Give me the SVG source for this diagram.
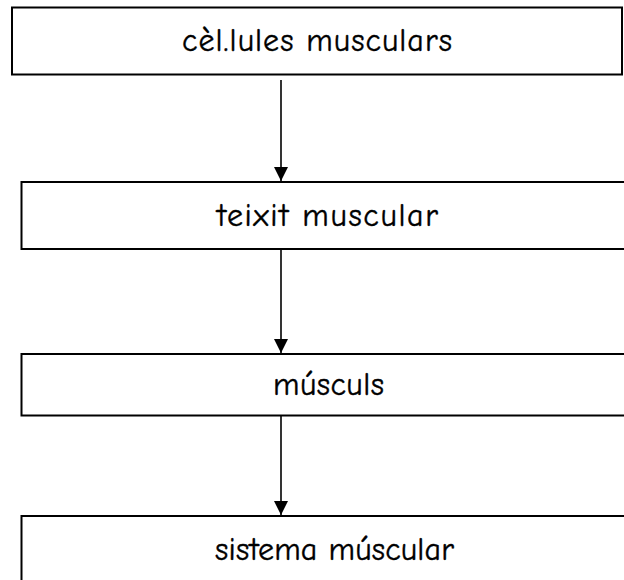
<svg xmlns="http://www.w3.org/2000/svg" width="624" height="580" viewBox="0 0 624 580">
<defs>
<style>
.box{fill:#fff;stroke:#000;stroke-width:2}
.lbl{font-family:"Comic Neue","DejaVu Sans",sans-serif;font-size:32px;fill:#000;stroke:#000;stroke-width:0.4;text-anchor:middle}
.con{stroke:#000;stroke-width:1.6;fill:none}
</style>
<marker id="ah" viewBox="0 0 14 14" refX="14" refY="7" markerWidth="14" markerHeight="14" markerUnits="userSpaceOnUse" orient="auto">
<path d="M0,0 L14,7 L0,14 z" fill="#000"/>
</marker>
</defs>
<rect width="624" height="580" fill="#fff"/>
<g id="n1"><rect class="box" x="12" y="7.5" width="610" height="67"/><text class="lbl" x="317" y="51" textLength="270" lengthAdjust="spacing">cèl.lules musculars</text></g>
<g id="n2"><rect class="box" x="21.5" y="182" width="612" height="67"/><text class="lbl" x="327.5" y="226" textLength="221" lengthAdjust="spacing">teixit muscular</text></g>
<g id="n3"><rect class="box" x="21.5" y="354" width="612" height="61.5"/><text class="lbl" x="328.5" y="395" textLength="111" lengthAdjust="spacing">músculs</text></g>
<g id="n4"><rect class="box" x="21.5" y="516" width="612" height="80"/><text class="lbl" x="334.5" y="560" textLength="239" lengthAdjust="spacing">sistema múscular</text></g>
<g id="connectors">
<line class="con" x1="281" y1="80" x2="281" y2="181" marker-end="url(#ah)"/>
<line class="con" x1="281" y1="249" x2="281" y2="353" marker-end="url(#ah)"/>
<line class="con" x1="281" y1="415.5" x2="281" y2="515" marker-end="url(#ah)"/>
</g>
</svg>
